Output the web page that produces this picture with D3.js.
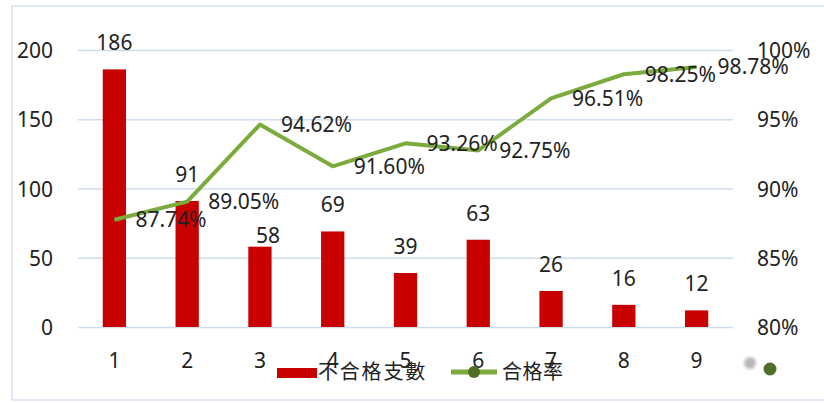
<!DOCTYPE html>
<html><head><meta charset="utf-8">
<script src="https://cdn.jsdelivr.net/npm/d3@7"></script>
<style>
html,body{margin:0;padding:0;background:#fff;}
svg text{font-family:"Noto Sans","Open Sans",sans-serif;fill:#222;}
</style></head>
<body><svg id="c" width="824" height="403"></svg>
<script>
const categories = ["1","2","3","4","5","6","7","8","9"];
const failCounts = [186, 91, 58, 69, 39, 63, 26, 16, 12];
const passRates = [87.74, 89.05, 94.62, 91.60, 93.26, 92.75, 96.51, 98.25, 98.78];
const leftTicks = [0, 50, 100, 150, 200];
const rightTicks = [80, 85, 90, 95, 100];
const seriesNames = ["不合格支數", "合格率"];

const svg = d3.select("#c");
const W = 824, H = 403;
const m = {left:78, right:733, top:50, bottom:327};

// border
svg.append("rect").attr("x",12).attr("y",6).attr("width",840).attr("height",394)
  .attr("fill","none").attr("stroke","#dfe8f3").attr("stroke-width",2);

const x = d3.scaleBand().domain(categories).range([m.left, m.right]).paddingInner(0.68).paddingOuter(0.34);
const xc = d => x(d) + x.bandwidth()/2;
const yL = d3.scaleLinear().domain([0,200]).range([m.bottom, m.top]);
const yR = d3.scaleLinear().domain([80,100]).range([m.bottom, m.top]);

const FS = 21;

// left axis with gridlines
const gL = svg.append("g").attr("transform",`translate(${m.left},0)`)
  .call(d3.axisLeft(yL).tickValues(leftTicks).tickSize(-(m.right-m.left)).tickPadding(25));
gL.select(".domain").remove();
gL.selectAll(".tick line").attr("stroke","#cfdcec").attr("stroke-width",1.5);
gL.selectAll(".tick text").attr("font-size",FS).attr("fill","#222").attr("dy","0.36em")
  .style("font-family",'"Noto Sans",sans-serif');

// right axis
const gR = svg.append("g").attr("transform",`translate(${m.right},0)`)
  .call(d3.axisRight(yR).tickValues(rightTicks).tickSize(0).tickPadding(24).tickFormat(d => d + "%"));
gR.select(".domain").remove();
gR.selectAll(".tick text").attr("font-size",FS).attr("fill","#222").attr("dy","0.36em")
  .style("font-family",'"Noto Sans",sans-serif');

// bottom axis
const gB = svg.append("g").attr("transform",`translate(0,${m.bottom})`)
  .call(d3.axisBottom(x).tickSize(0).tickPadding(26));
gB.select(".domain").remove();
gB.selectAll(".tick text").attr("font-size",FS).attr("fill","#222").attr("dy","0.71em")
  .style("font-family",'"Noto Sans",sans-serif');

// bars
svg.append("g").selectAll("rect").data(failCounts).join("rect")
  .attr("x",(d,i)=>x(categories[i])).attr("width",x.bandwidth())
  .attr("y",d=>yL(d)).attr("height",d=>yL(0)-yL(d))
  .attr("fill","#c90000");

// bar labels (label 3 nudged in the original)
const nudge = {2:[8,15]};
svg.append("g").selectAll("text").data(failCounts).join("text")
  .attr("x",(d,i)=>xc(categories[i]) + (nudge[i]?nudge[i][0]:0))
  .attr("y",(d,i)=>yL(d) - 19 + (nudge[i]?nudge[i][1]:0))
  .attr("text-anchor","middle").attr("font-size",FS).text(d=>d);

// line
const line = d3.line().x((d,i)=>xc(categories[i])).y(d=>yR(d));
svg.append("path").datum(passRates).attr("d",line)
  .attr("fill","none").attr("stroke","#7aab3c").attr("stroke-width",4)
  .attr("stroke-linejoin","round");

// line labels
svg.append("g").selectAll("text").data(passRates).join("text")
  .attr("x",(d,i)=>xc(categories[i]) + 21)
  .attr("y",d=>yR(d)).attr("dy","0.36em")
  .attr("font-size",FS).text(d=>d.toFixed(2)+"%");

// legend
const lg = svg.append("g");
lg.append("rect").attr("x",277).attr("y",368).attr("width",40).attr("height",10).attr("fill","#c90000");
lg.append("text").attr("x",318).attr("y",372).attr("dy","0.36em").attr("font-size",20)
  .attr("letter-spacing",1.8)
  .style("font-family",'"Noto Sans CJK TC",sans-serif').text(seriesNames[0]);
lg.append("line").attr("x1",451).attr("x2",497).attr("y1",372).attr("y2",372)
  .attr("stroke","#7aab3c").attr("stroke-width",5);
lg.append("circle").attr("cx",474).attr("cy",372).attr("r",6).attr("fill","#4f6e27");
lg.append("text").attr("x",502).attr("y",372).attr("dy","0.36em").attr("font-size",20)
  .attr("letter-spacing",0.5)
  .style("font-family",'"Noto Sans CJK TC",sans-serif').text(seriesNames[1]);

// stray dots at bottom right of original
const defs = svg.append("defs");
defs.append("filter").attr("id","bl").append("feGaussianBlur").attr("stdDeviation",1.8);
svg.append("circle").attr("cx",750).attr("cy",363).attr("r",6).attr("fill","#b8b8b8").attr("filter","url(#bl)");
svg.append("circle").attr("cx",770).attr("cy",369).attr("r",6.5).attr("fill","#4f6e27");
</script></body></html>
